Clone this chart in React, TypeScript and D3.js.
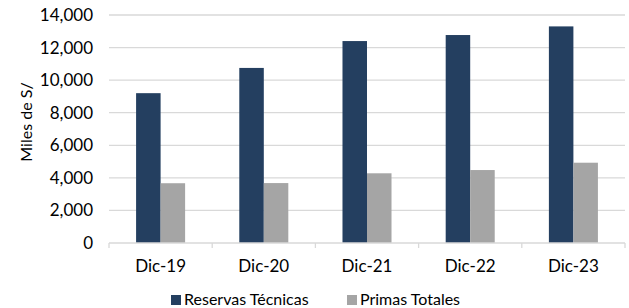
import React from 'react';
import * as d3 from 'd3';

const width = 629;
const height = 308;
const margin = {top: 15, right: 4, bottom: 65, left: 109};
const dark = '#243f60';
const gray = '#a5a5a5';
const grid = '#d9d9d9';
const font = 'Lato, "Open Sans", sans-serif';

const categories = ['Dic-19', 'Dic-20', 'Dic-21', 'Dic-22', 'Dic-23'];
const reservas = [9200, 10750, 12400, 12770, 13300];
const primas = [3670, 3680, 4280, 4480, 4930];
const yTicks = [0, 2000, 4000, 6000, 8000, 10000, 12000, 14000];
const seriesNames = ['Reservas Técnicas', 'Primas Totales'];

// the pair of bars fills about 47.5% of each category
const pairFrac = 0.475;

const App = () => {
  const x = d3.scaleBand().domain(categories).range([margin.left, width - margin.right]);
  const y = d3.scaleLinear().domain([0, 14000]).range([height - margin.bottom, margin.top]);
  const inner = d3.scaleBand().domain(['r', 'p']).range([0, x.bandwidth()])
    .paddingInner(0).paddingOuter(1 / pairFrac - 1);
  const fmt = d3.format(',');
  const y0 = y(0);

  return (
    <svg width={width} height={height} style={{position: 'absolute', left: 0, top: 0}}>
      {yTicks.slice(1).map(t => (
        <line key={t} x1={margin.left} x2={width - margin.right} y1={y(t)} y2={y(t)} stroke={grid} strokeWidth={1.3} />
      ))}
      {yTicks.map(t => (
        <text key={t} x={93} y={y(t)} dy="0.35em" textAnchor="end" fontFamily={font} fontSize={17} fill="#000">{fmt(t)}</text>
      ))}
      {categories.map((c, i) => (
        <g key={c}>
          <rect x={x(c)! + inner('r')!} y={y(reservas[i])} width={inner.bandwidth()} height={y0 - y(reservas[i])} fill={dark} />
          <rect x={x(c)! + inner('p')!} y={y(primas[i])} width={inner.bandwidth()} height={y0 - y(primas[i])} fill={gray} />
          <text x={x(c)! + x.bandwidth() / 2} y={272} textAnchor="middle" fontFamily={font} fontSize={17} fill="#000">{c}</text>
        </g>
      ))}
      <line x1={margin.left} x2={width - margin.right} y1={y0} y2={y0} stroke={grid} strokeWidth={1.3} />
      {[...categories.map(c => x(c)!), width - margin.right].map((v, i) => (
        <line key={i} x1={v} x2={v} y1={y0} y2={y0 + 5} stroke={grid} strokeWidth={1.3} />
      ))}
      <text transform={`translate(32, 122) rotate(-90)`} textAnchor="middle" fontFamily={font} fontSize={16} fill="#000">Miles de S/</text>
      <g>
        <rect x={171} y={295} width={10} height={10} fill={dark} />
        <text x={184} y={305} fontFamily={font} fontSize={16} fill="#000">{seriesNames[0]}</text>
        <rect x={347} y={295} width={10} height={10} fill={gray} />
        <text x={360} y={305} fontFamily={font} fontSize={16} fill="#000">{seriesNames[1]}</text>
      </g>
    </svg>
  );
};

export default App;
